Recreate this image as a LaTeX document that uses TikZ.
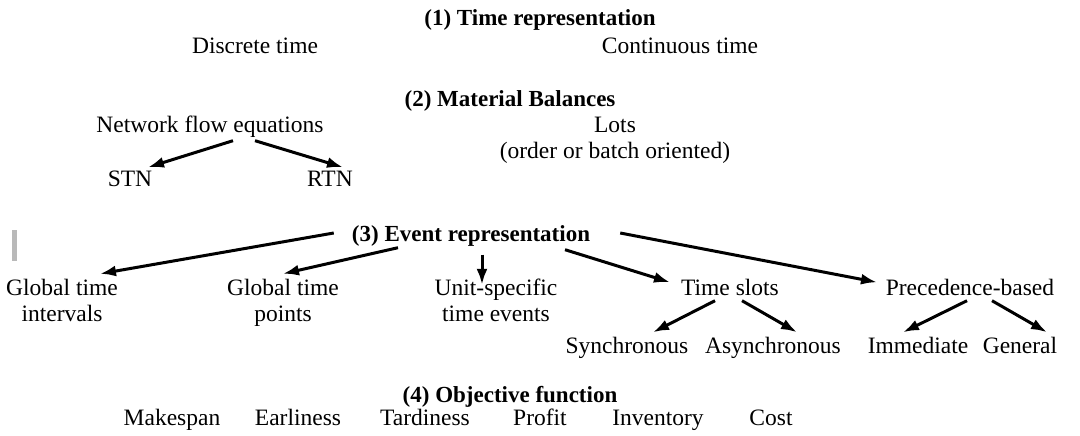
\documentclass[tikz,border=0pt]{standalone}
\usepackage{fontspec}
\setmainfont{Liberation Serif}
\usetikzlibrary{arrows.meta}
\tikzset{
    lbl/.style={inner sep=3pt, font=\fontsize{23.5}{27}\selectfont, text height=16pt, text depth=5pt},
    lbltwo/.style={inner sep=3pt, font=\fontsize{23.5}{26}\selectfont, align=center},
    head/.style={lbl, font=\fontsize{23}{27}\selectfont\bfseries},
    arr/.style={->, line width=3pt},
}
\begin{document}
\begin{tikzpicture}[x=1pt,y=-1pt,>={Latex[length=16pt,width=11pt]}]
\useasboundingbox (0,0) rectangle (1080,436);
\fill[gray!55] (12,230) rectangle (17,261);
% (1) time
\node[head] (tr) at (540,20) {(1) Time representation};
\node[lbl] (dt) at (255,48) {Discrete time};
\node[lbl] (ct) at (680,48) {Continuous time};
% (2) material balances
\node[head] (mb) at (510,101) {(2) Material Balances};
\node[lbl] (nfe) at (210,127) {Network flow equations};
\node[lbltwo] (lots) at (615,140) {Lots\strut\\(order or batch oriented)\strut};
\node[lbl] (stn) at (130,181) {STN};
\node[lbl] (rtn) at (330,181) {RTN};
\draw[arr] ([xshift=23pt]nfe.south)--([xshift=18pt]stn.north);
\draw[arr] ([xshift=45pt]nfe.south)--([xshift=13pt]rtn.north);
% (3) events
\node[head] (ev) at (471,236) {(3) Event representation};
\node[lbltwo] (gti) at (62,303) {Global time\strut\\intervals\strut};
\node[lbltwo] (gtp) at (283,303) {Global time\strut\\points\strut};
\node[lbltwo] (use) at (496,303) {Unit-specific\strut\\time events\strut};
\node[lbl] (ts) at (730,290) {Time slots};
\node[lbl] (pb) at (970,290) {Precedence-based};
\node[lbl] (syn) at (627,348) {Synchronous};
\node[lbl] (asyn) at (773,348) {Asynchronous};
\node[lbl] (imm) at (918,348) {Immediate};
\node[lbl] (gen) at (1020,348) {General};
\draw[arr] ([xshift=-15pt,yshift=3pt]ev.west)--([xshift=38pt]gti.north);
\draw[arr] ([xshift=-73pt,yshift=2pt]ev.south)--(gtp.north);
\draw[arr] ([xshift=11pt,yshift=-5pt]ev.south)--([xshift=-14pt,yshift=-11pt]use.north);
\draw[arr] ([xshift=94pt]ev.south)--([xshift=-60pt,yshift=-6pt]ts.north);
\draw[arr] ([xshift=27pt,yshift=3pt]ev.east)--([xshift=-93pt,yshift=-6pt]pb.north);
\draw[arr] ([xshift=-15pt,yshift=3pt]ts.south)--([xshift=26pt,yshift=2pt]syn.north);
\draw[arr] ([xshift=12pt,yshift=3pt]ts.south)--([xshift=24pt,yshift=2pt]asyn.north);
\draw[arr] ([xshift=-3pt,yshift=3pt]pb.south)--([xshift=-15pt,yshift=2pt]imm.north);
\draw[arr] ([xshift=22pt,yshift=3pt]pb.south)--([xshift=27pt,yshift=2pt]gen.north);
% (4) objective
\node[head] (of) at (510,397) {(4) Objective function};
\foreach \name/\x/\txt in {mk/172/Makespan, ea/298/Earliness, ta/425/Tardiness, pr/540/Profit, inv/658/Inventory, co/771/Cost}
{
    \node[lbl] (\name) at (\x,420) {\txt};
}
\end{tikzpicture}
\end{document}
